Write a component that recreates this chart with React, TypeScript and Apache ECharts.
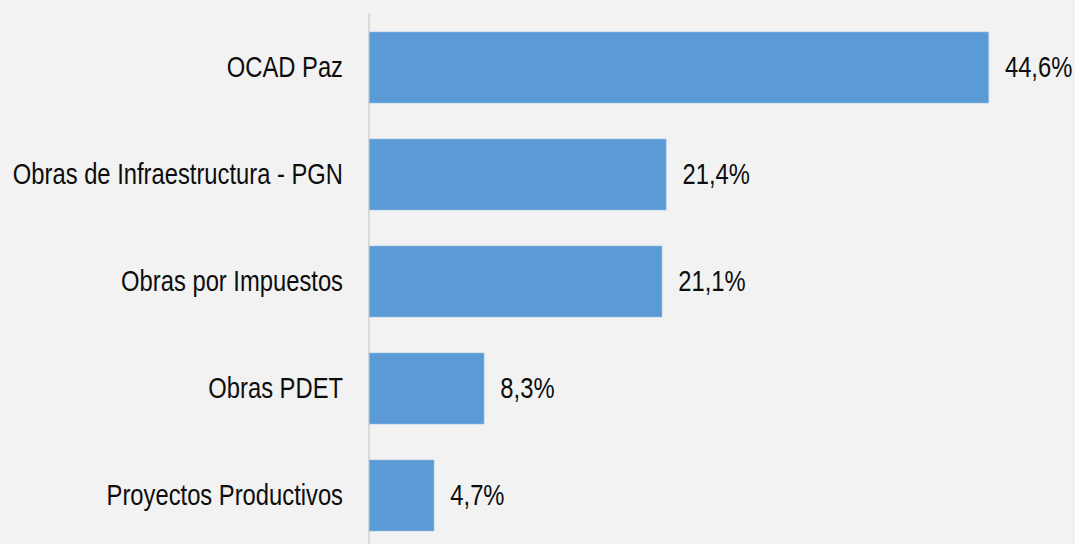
import React, { useEffect, useRef } from "react";
import * as echarts from "echarts";

const categories = [
  "OCAD Paz",
  "Obras de Infraestructura - PGN",
  "Obras por Impuestos",
  "Obras PDET",
  "Proyectos Productivos",
];
const values = [44.6, 21.4, 21.1, 8.3, 4.7];

const FONT = "'Liberation Sans', Arial, sans-serif";
const fmt = (v: number) => v.toFixed(1).replace(".", ",") + "%";

export default function App() {
  const ref = useRef<HTMLDivElement>(null);
  useEffect(() => {
    if (!ref.current) return;
    const chart = echarts.init(ref.current, null, { renderer: "svg" });
    chart.setOption({
      animation: false,
      backgroundColor: "#f2f2f2",
      grid: {
        left: 369,
        right: 11,
        top: 14,
        bottom: 1,
        containLabel: false,
        outerBoundsMode: "none",
      },
      xAxis: {
        type: "value",
        min: 0,
        max: 50,
        show: false,
        splitLine: { show: false },
      },
      yAxis: {
        type: "category",
        inverse: true,
        data: categories,
        axisLine: { show: true, lineStyle: { color: "#d9d9d9", width: 2 } },
        axisTick: { show: false },
        axisLabel: { show: false },
      },
      series: [
        {
          type: "bar",
          data: values,
          barCategoryGap: "33%",
          itemStyle: { color: "#5b9bd5", borderColor: "#9cc2e6", borderWidth: 0.6 },
        },
      ],
    });

    const axisX = chart.convertToPixel({ xAxisIndex: 0 }, 0) as number;
    const texts: any[] = [];
    categories.forEach((c, i) => {
      const y = chart.convertToPixel({ yAxisIndex: 0 }, c) as number;
      const end = chart.convertToPixel({ xAxisIndex: 0 }, values[i]) as number;
      texts.push({
        type: "text",
        x: axisX - 26,
        y,
        scaleX: 0.82,
        style: {
          text: c,
          fontSize: 29,
          fontFamily: FONT,
          fill: "#0d0d0d",
          align: "right",
          verticalAlign: "middle",
        },
      });
      texts.push({
        type: "text",
        x: end + 16,
        y,
        scaleX: 0.82,
        style: {
          text: fmt(values[i]),
          fontSize: 29,
          fontFamily: FONT,
          fill: "#0d0d0d",
          align: "left",
          verticalAlign: "middle",
        },
      });
    });
    chart.setOption({ graphic: { elements: texts } });

    return () => chart.dispose();
  }, []);
  return (
    <div
      ref={ref}
      style={{ position: "absolute", left: 0, top: 0, width: 1075, height: 550 }}
    />
  );
}
